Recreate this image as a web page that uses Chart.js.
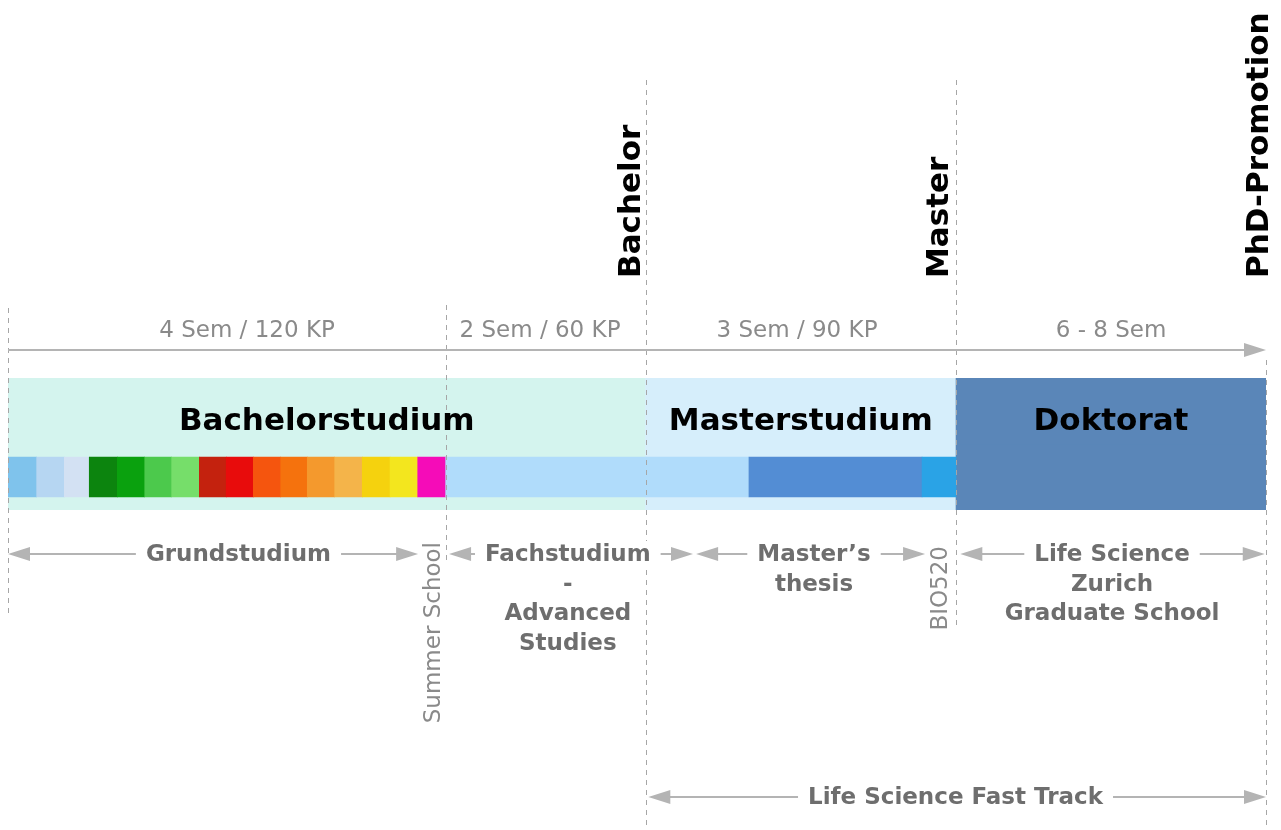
<!DOCTYPE html>
<html>
<head>
<meta charset="utf-8">
<script src="https://cdn.jsdelivr.net/npm/chart.js@4.4.1/dist/chart.umd.min.js"></script>
<style>
  html, body { margin: 0; padding: 0; background: #fff; }
  #wrap { width: 1281px; height: 830px; position: relative; }
</style>
</head>
<body>
<div id="wrap"><canvas id="timeline"></canvas></div>
<script>
// ------------------------------
// DATA (positions on the timeline: 0 = start, 100 = PhD-Promotion)
// ------------------------------
const lanes = ['Phase', 'Module'];

const phaseNames = ['Bachelorstudium', 'Masterstudium', 'Doktorat'];
const phaseFrom = [0, 50.68, 75.36];
const phaseTo = [50.68, 75.36, 100];

const moduleNames = [
  'Modul 1', 'Modul 2', 'Modul 3', 'Modul 4', 'Modul 5', 'Modul 6', 'Modul 7', 'Modul 8',
  'Modul 9', 'Modul 10', 'Modul 11', 'Modul 12', 'Modul 13', 'Modul 14', 'Modul 15',
  'Summer School', 'Fachstudium', 'Master-Module', 'Master’s thesis', 'BIO520'
];
const moduleFrom = [0, 2.28, 4.48, 6.46, 8.69, 10.87, 13.01, 15.21, 17.35, 19.50, 21.68, 23.79,
  25.97, 28.16, 30.37, 32.57, 34.79, 50.68, 58.90, 72.66];
const moduleTo = [2.28, 4.48, 6.46, 8.69, 10.87, 13.01, 15.21, 17.35, 19.50, 21.68, 23.79, 25.97,
  28.16, 30.37, 32.57, 34.79, 50.68, 58.90, 72.66, 75.36];
const sideNotes = ['Summer School', 'BIO520'];

const durationText = ['4 Sem / 120 KP', '2 Sem / 60 KP', '3 Sem / 90 KP', '6 - 8 Sem'];
const durationAt = [19.0, 42.29, 62.72, 87.68];

const milestoneNames = ['', '', 'Bachelor', 'Master', 'PhD-Promotion'];
const milestoneAt = [0, 34.79, 50.68, 75.36, 100];

const trackText = [
  ['Grundstudium'],
  ['Fachstudium', '-', 'Advanced', 'Studies'],
  ['Master’s', 'thesis'],
  ['Life Science', 'Zurich', 'Graduate School'],
  ['Life Science Fast Track']
];
const trackFrom = [0, 35.06, 54.7, 75.7, 50.9];
const trackTo = [32.6, 54.45, 72.9, 99.9, 100];
const trackLabelAt = [18.32, 44.5, 64.07, 87.76, 75.32];

// ------------------------------
// STYLES
// ------------------------------
const phaseColors = ['#d4f4ee', '#d6eefb', '#5a86b8'];
const moduleColors = ['#7fc3ec', '#b6d6f2', '#d3e1f3', '#0c840e', '#0aa10e', '#4cc94c', '#76de6a',
  '#c4220e', '#e80c0c', '#f5550e', '#f5720d', '#f4992d', '#f4b44a', '#f5d20e', '#f3e61e',
  '#f50cb8', '#b0dcfb', '#b0dcfb', '#538dd4', '#2aa3e6'];
const guideSpan = [[308, 615], [305, 560], [80, 830], [80, 625], [360, 830]];
const milestoneDx = [0, 0, -6, -8, 2];
const sideNoteDy = [32, 36];
const trackY = [554, 554, 554, 554, 797];

const FONT = '"DejaVu Sans", Verdana, sans-serif';
const ARROW = '#b4b4b4';

function arrowHead(ctx, x, y, dir) {
  ctx.beginPath();
  ctx.moveTo(x, y);
  ctx.lineTo(x - dir * 22, y - 7);
  ctx.lineTo(x - dir * 22, y + 7);
  ctx.closePath();
  ctx.fill();
}

function rotatedText(ctx, text, x, y, align) {
  ctx.save();
  ctx.translate(x, y);
  ctx.rotate(-Math.PI / 2);
  ctx.textAlign = align;
  ctx.fillText(text, 0, 0);
  ctx.restore();
}

const annotations = {
  id: 'annotations',
  afterDatasetsDraw(chart) {
    const { ctx, chartArea: area, scales: { x } } = chart;
    ctx.save();

    // dashed guide lines at the milestones
    ctx.strokeStyle = '#a6a6a6';
    ctx.lineWidth = 1;
    ctx.setLineDash([5, 5]);
    milestoneAt.forEach((v, i) => {
      const px = Math.round(x.getPixelForValue(v)) + 0.5;
      ctx.beginPath();
      ctx.moveTo(px, guideSpan[i][0]);
      ctx.lineTo(px, guideSpan[i][1]);
      ctx.stroke();
    });
    ctx.setLineDash([]);

    // top arrow
    const yTop = area.top - 28;
    ctx.strokeStyle = ARROW;
    ctx.fillStyle = ARROW;
    ctx.lineWidth = 2;
    ctx.beginPath();
    ctx.moveTo(x.getPixelForValue(0), yTop);
    ctx.lineTo(x.getPixelForValue(100) - 10, yTop);
    ctx.stroke();
    arrowHead(ctx, x.getPixelForValue(100), yTop, 1);

    // duration labels
    ctx.fillStyle = '#8a8a8a';
    ctx.font = '23px ' + FONT;
    ctx.textAlign = 'center';
    ctx.textBaseline = 'alphabetic';
    durationText.forEach((t, i) => ctx.fillText(t, x.getPixelForValue(durationAt[i]), area.top - 41));

    // milestone labels (rotated)
    ctx.fillStyle = '#000';
    ctx.font = 'bold 31px ' + FONT;
    milestoneNames.forEach((t, i) => {
      if (!t) return;
      rotatedText(ctx, t, x.getPixelForValue(milestoneAt[i]) + milestoneDx[i], area.top - 100, 'left');
    });

    // phase labels inside the bands
    ctx.textAlign = 'center';
    phaseNames.forEach((t, i) => {
      ctx.fillText(t, x.getPixelForValue((phaseFrom[i] + phaseTo[i]) / 2), area.top + 52);
    });

    // side notes below the module strip
    ctx.fillStyle = '#8a8a8a';
    ctx.font = '23px ' + FONT;
    ctx.textBaseline = 'middle';
    sideNotes.forEach((name, i) => {
      const k = moduleNames.indexOf(name);
      const cx = x.getPixelForValue((moduleFrom[k] + moduleTo[k]) / 2) + 2;
      rotatedText(ctx, name, cx, area.bottom + sideNoteDy[i], 'right');
    });
    ctx.textBaseline = 'alphabetic';

    // tracks: double arrows with labels
    trackText.forEach((lines, i) => {
      const y = trackY[i];
      const x1 = x.getPixelForValue(trackFrom[i]);
      const x2 = x.getPixelForValue(trackTo[i]);
      ctx.strokeStyle = ARROW;
      ctx.fillStyle = ARROW;
      ctx.lineWidth = 2;
      ctx.beginPath();
      ctx.moveTo(x1 + 10, y);
      ctx.lineTo(x2 - 10, y);
      ctx.stroke();
      arrowHead(ctx, x1, y, -1);
      arrowHead(ctx, x2, y, 1);

      ctx.font = 'bold 23px ' + FONT;
      const cx = x.getPixelForValue(trackLabelAt[i]);
      lines.forEach((t, j) => {
        const base = y + 7 + j * 29.5;
        const w = ctx.measureText(t).width;
        ctx.fillStyle = '#fff';
        ctx.fillRect(cx - w / 2 - 10, base - 20, w + 20, 26);
        ctx.fillStyle = '#6e6e6e';
        ctx.fillText(t, cx, base);
      });
    });

    ctx.restore();
  }
};

// ------------------------------
// CHART BUILDING
// ------------------------------
const ctx = document.getElementById('timeline').getContext('2d');
new Chart(ctx, {
  type: 'bar',
  data: {
    labels: lanes,
    datasets: [
      {
        label: 'Module',
        data: moduleNames.map((n, i) => ({ x: [moduleFrom[i], moduleTo[i]], y: 'Module' })),
        backgroundColor: moduleColors,
        barThickness: 40,
        grouped: false,
        order: 0
      },
      {
        label: 'Studienphase',
        data: phaseNames.map((n, i) => ({ x: [phaseFrom[i], phaseTo[i]], y: 'Phase' })),
        backgroundColor: phaseColors,
        barPercentage: 1,
        categoryPercentage: 1,
        grouped: false,
        order: 1
      },
      {
        label: 'Studienphase (unten)',
        data: phaseNames.map((n, i) => ({ x: [phaseFrom[i], phaseTo[i]], y: 'Module' })),
        backgroundColor: phaseColors,
        barPercentage: 1,
        categoryPercentage: 1,
        grouped: false,
        order: 2
      }
    ]
  },
  options: {
    indexAxis: 'y',
    responsive: true,
    maintainAspectRatio: false,
    animation: false,
    layout: { padding: { left: 8, right: 15, top: 378, bottom: 320 } },
    scales: {
      x: { type: 'linear', min: 0, max: 100, display: false },
      y: { type: 'category', display: false }
    },
    plugins: {
      legend: { display: false },
      tooltip: { enabled: false }
    }
  },
  plugins: [annotations]
});
</script>
</body>
</html>
